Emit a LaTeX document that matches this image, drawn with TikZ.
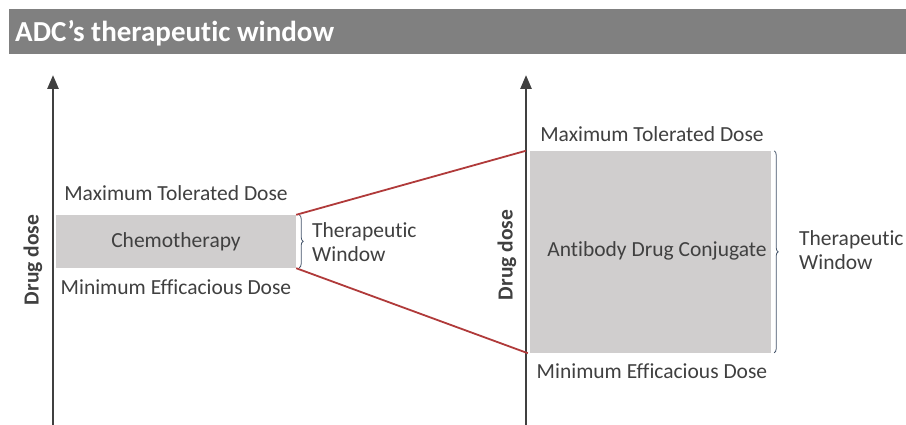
\documentclass[tikz,border=0pt]{standalone}
\usepackage{fontspec}
\setmainfont{Carlito}[Ligatures=NoCommon]
\usetikzlibrary{arrows.meta,decorations.pathreplacing}
\definecolor{titlegray}{HTML}{808080}
\definecolor{boxgray}{HTML}{D0CECE}
\definecolor{txtgray}{HTML}{404040}
\definecolor{redline}{HTML}{B03A3A}
\definecolor{bracecol}{HTML}{44546A}
\tikzset{
  axis/.style={line width=2.6pt,draw=txtgray,-{Triangle[width=11pt,length=14pt]}},
  dosebox/.style={fill=boxgray,draw=none,inner sep=0pt,text=txtgray,font=\fontsize{21.5}{24}\selectfont},
  lbl/.style={text=txtgray,font=\fontsize{21.5}{24}\selectfont,inner sep=0pt},
  ylbl/.style={text=txtgray,font=\bfseries\fontsize{21.5}{24}\selectfont,rotate=90,inner sep=0pt},
  twlbl/.style={text=txtgray,font=\fontsize{21.5}{24}\selectfont,align=left,anchor=west,inner sep=0pt},
  redl/.style={draw=redline,line width=1.8pt},
  brc/.style={draw=bracecol,line width=0.8pt,decorate,decoration={brace,amplitude=4pt}}
}
\begin{document}
\begin{tikzpicture}[x=1pt,y=-1pt]
\useasboundingbox (0,0) rectangle (906,425);
\fill[white] (0,0) rectangle (906,425);
% title
\fill[titlegray] (9,9) rectangle (906,54);
\node[anchor=west,text=white,font=\bfseries\fontsize{29}{30}\selectfont,inner sep=0pt] (title) at (15,33) {ADC’s therapeutic window};
% axes
\coordinate (la0) at (53,430);
\coordinate (la1) at (53,75);
\draw[axis] (la0) -- (la1);
\coordinate (ra0) at (526,430);
\coordinate (ra1) at (526,75);
\draw[axis] (ra0) -- (ra1);
% boxes
\node[dosebox,minimum width=240pt,minimum height=53pt] (chemo) at (176,241.5) {Chemotherapy};
\node[dosebox,minimum width=241pt,minimum height=202pt] (adc) at (650.5,252) {};
\node[lbl] (adctxt) at (657,251) {Antibody Drug Conjugate};
% labels
\node[lbl] (lmtd) at (176,193) {Maximum Tolerated Dose};
\node[lbl] (lmed) at (176,287) {Minimum Efficacious Dose};
\node[lbl] (rmtd) at (652,134) {Maximum Tolerated Dose};
\node[lbl] (rmed) at (652,371) {Minimum Efficacious Dose};
\node[ylbl] (ly) at (33,260) {Drug dose};
\node[ylbl] (ry) at (507,255) {Drug dose};
% braces
\draw[brc] (chemo.north east) ++(3,0) coordinate (lb0) -- ++(0,53) coordinate (lb1);
\draw[brc] (adc.north east) ++(3,0) coordinate (rb0) -- ++(0,202) coordinate (rb1);
\node[twlbl] (ltw) at (312,242) {Therapeutic\\Window};
\node[twlbl] (rtw) at (799,250) {Therapeutic\\Window};
% red connectors
\draw[redl] (chemo.north east) -- ([xshift=-4pt]adc.north west);
\draw[redl] (chemo.south east) -- ([xshift=-2pt]adc.south west);
\end{tikzpicture}
\end{document}
